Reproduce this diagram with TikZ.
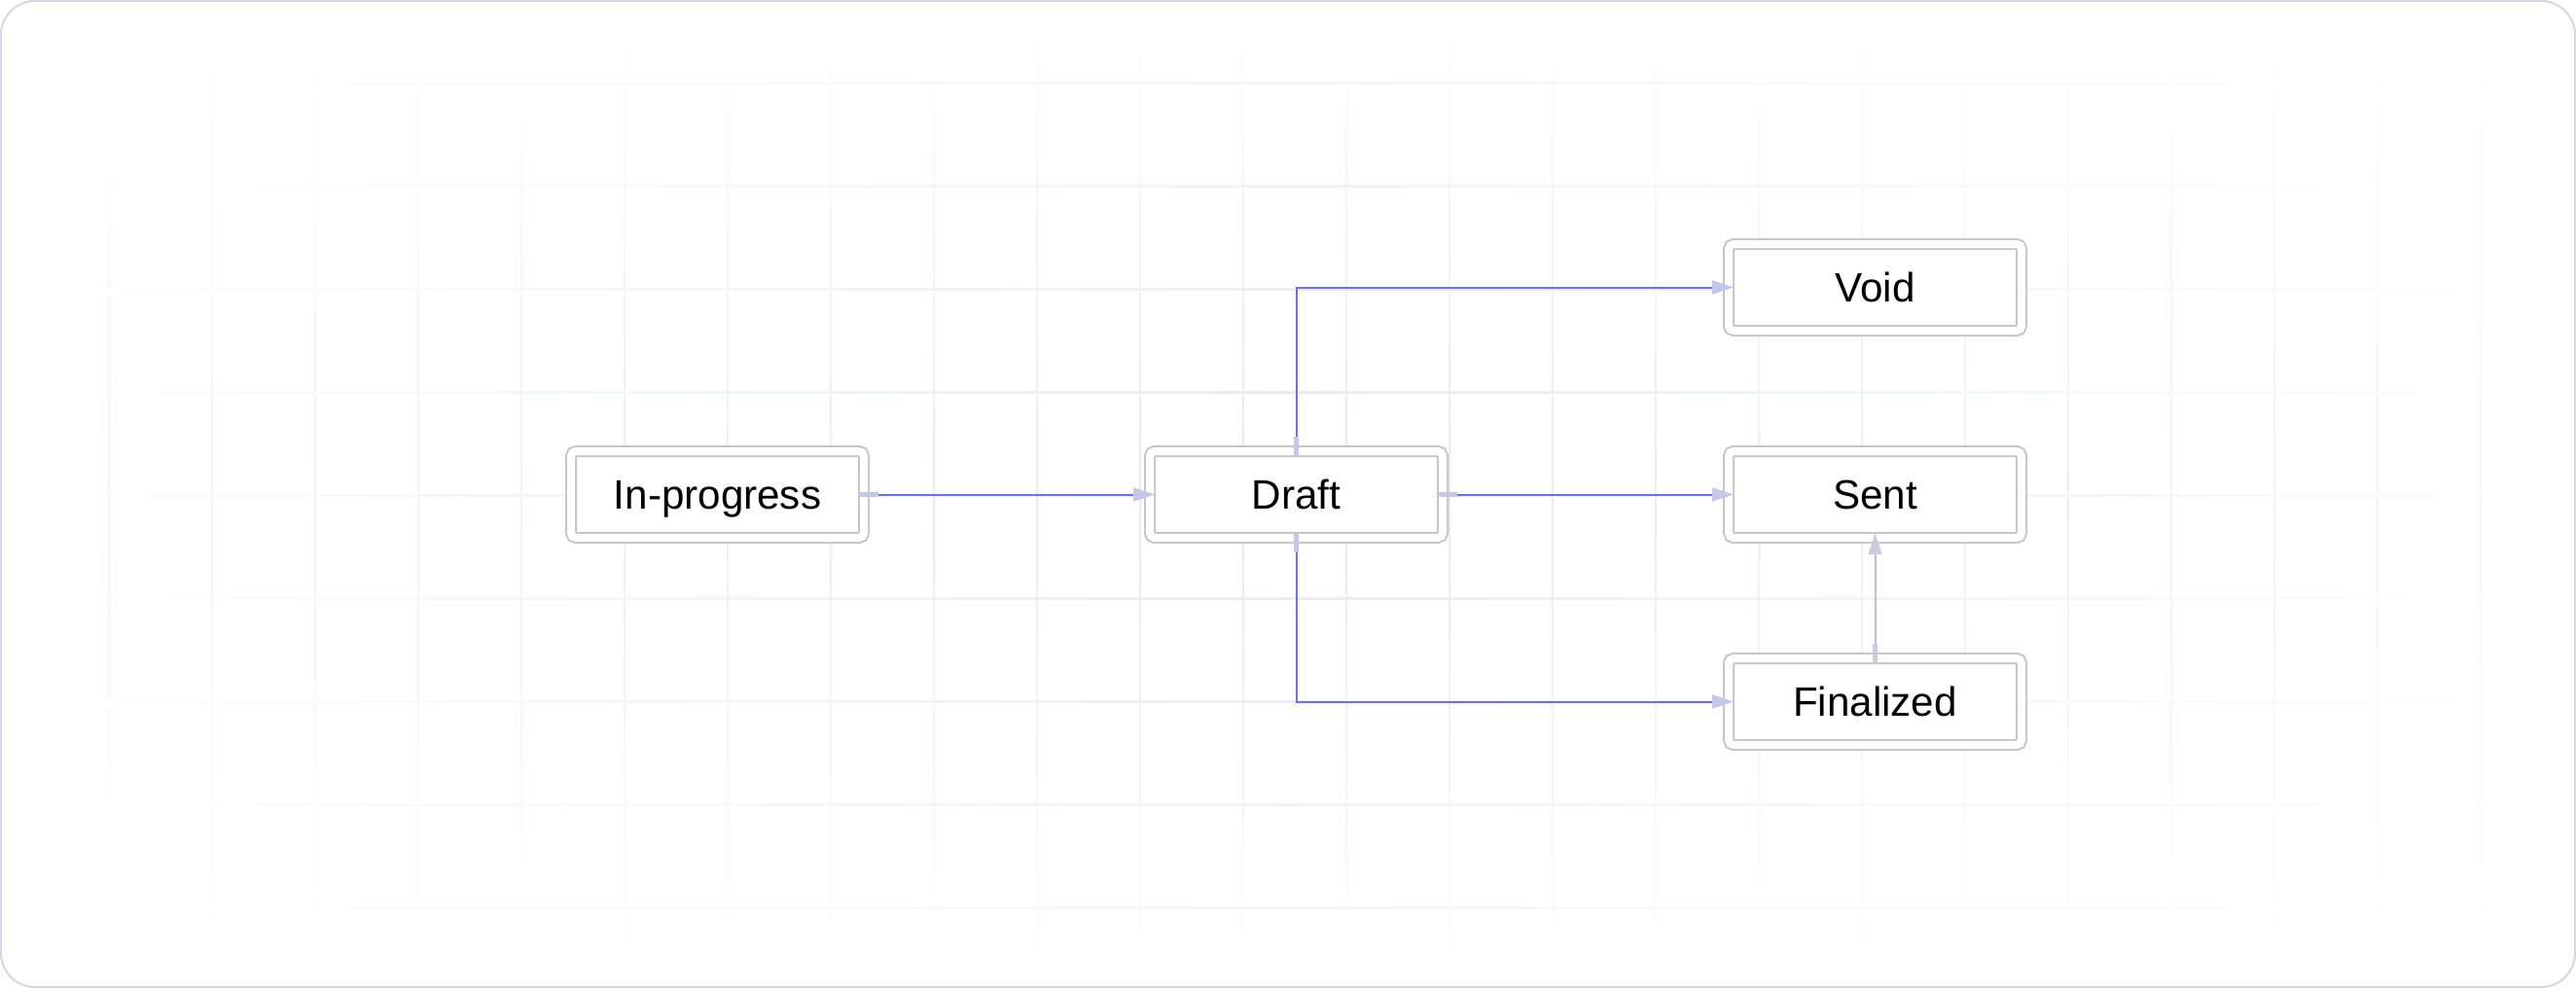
\documentclass[tikz,border=0pt]{standalone}
\usepackage{fontspec}
\setmainfont{Liberation Sans}
\usetikzlibrary{positioning,arrows.meta}

\definecolor{framec}{HTML}{D3D8E6}
\definecolor{gridc}{HTML}{E6E8F0}
\definecolor{boxc}{HTML}{C6C6CA}
\definecolor{wire}{HTML}{6A71F0}
\definecolor{wiretip}{HTML}{C4C7EA}
\definecolor{backwire}{HTML}{B8BFD4}
\definecolor{backtip}{HTML}{C9CDD9}

\tikzset{
  state/.style={draw=boxc, line width=0.02cm, double=white, double distance=0.08cm,
    rounded corners=0.05cm, fill=white, minimum width=3.01cm, minimum height=0.89cm,
    inner sep=0pt, outer sep=-0.05cm, text height=8.6pt, text depth=0pt,
    font=\fontsize{12}{14}\selectfont},
  flow/.style={draw=wire, line width=0.02cm,
    {Rectangle[length=0.2cm,width=0.05cm,color=wiretip]}-{Triangle[length=0.22cm,width=0.14cm,color=wiretip]}},
  backflow/.style={draw=backwire, line width=0.02cm,
    {Rectangle[length=0.2cm,width=0.05cm,color=backtip]}-{Triangle[length=0.22cm,width=0.14cm,color=backtip]}}
}

\begin{document}
\begin{tikzpicture}[node distance=2.13cm and 5.95cm, on grid]
    \useasboundingbox (0,0) rectangle (26.48,-10.16);
    \fill[white, rounded corners=0.35cm] (0.01,-0.01) rectangle (26.47,-10.15);
    \foreach \gx [evaluate=\gx as \gs using {100-abs(\gx-11.5)*5}] in {0,...,23}
      \shade[top color=white, bottom color=white, middle color=gridc!\gs!white]
        ({1.11+1.06*\gx},-0.03) rectangle ++(0.02,-10.1);
    \foreach \gy [evaluate=\gy as \gs using {100-abs(\gy-4)*15}] in {0,...,8}
      \shade[left color=white, right color=white, middle color=gridc!\gs!white]
        (0.03,{-0.84-1.06*\gy}) rectangle ++(26.42,-0.02);
    \draw[framec, line width=0.02cm, rounded corners=0.35cm] (0.01,-0.01) rectangle (26.47,-10.15);

    \node[state] (inprog) at (7.375,-5.085) {In-progress};
    \node[state, right=of inprog] (draft) {Draft};
    \node[state, right=of draft] (sent) {Sent};
    \node[state, above=of sent] (void) {Void};
    \node[state, below=of sent] (final) {Finalized};

    \draw[flow] (inprog.east) -- (draft.west);
    \draw[flow] (draft.north) |- (void.west);
    \draw[flow] (draft.east) -- (sent.west);
    \draw[flow] (draft.south) |- (final.west);
    \draw[backflow] (final.north) -- (sent.south);
\end{tikzpicture}
\end{document}
